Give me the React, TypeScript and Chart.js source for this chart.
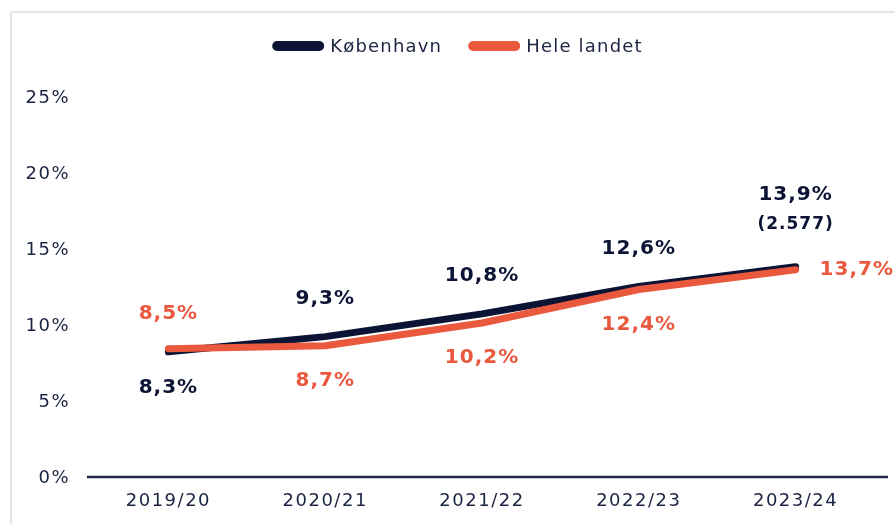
import React, { useEffect, useRef } from 'react';
import { Chart, registerables } from 'chart.js';

Chart.register(...registerables);

const categories = ['2019/20', '2020/21', '2021/22', '2022/23', '2023/24'];
const seriesNames = ['København', 'Hele landet'];
const kbhValues = [8.3, 9.3, 10.8, 12.6, 13.9];
const heleValues = [8.5, 8.7, 10.2, 12.4, 13.7];
const kbhLabelPos = ['below', 'above', 'above', 'above', 'above'];
const heleLabelPos = ['above', 'below', 'below', 'below', 'right'];
const kbhNotes = ['', '', '', '', '(2.577)'];
const heleNotes = ['', '', '', '', ''];
const yMin = 0;
const yMax = 25;
const yStep = 5;

const NAVY = '#0b1434';
const ORANGE = '#ea583e';
const TEXT = '#1b2442';
const FONT = '"DejaVu Sans", sans-serif';

const fmt = (v: number) => v.toFixed(1).replace('.', ',') + '%';

const spacingPlugin = {
  id: 'spacing',
  beforeLayout(chart: any) {
    chart.ctx.letterSpacing = '1.5px';
  },
  beforeDraw(chart: any) {
    chart.ctx.letterSpacing = '1.5px';
  },
};

const axisLinePlugin = {
  id: 'axisLine',
  beforeDatasetsDraw(chart: any) {
    const { ctx, chartArea } = chart;
    ctx.save();
    ctx.strokeStyle = '#1f2847';
    ctx.lineWidth = 2.5;
    ctx.beginPath();
    ctx.moveTo(chartArea.left - 3, chartArea.bottom - 1);
    ctx.lineTo(chartArea.right + 14, chartArea.bottom - 1);
    ctx.stroke();
    ctx.restore();
  },
};

const labelsPlugin = {
  id: 'valueLabels',
  afterDatasetsDraw(chart: any) {
    const { ctx } = chart;
    const positions = [kbhLabelPos, heleLabelPos];
    const notes = [kbhNotes, heleNotes];
    ctx.save();
    ctx.letterSpacing = '1px';
    chart.data.datasets.forEach((ds: any, di: number) => {
      const meta = chart.getDatasetMeta(di);
      meta.data.forEach((pt: any, i: number) => {
        const v = ds.data[i] as number;
        const pos = positions[di][i];
        const note = notes[di][i];
        ctx.fillStyle = ds.borderColor;
        ctx.font = `bold 20px ${FONT}`;
        ctx.textBaseline = 'middle';
        if (pos === 'right') {
          ctx.textAlign = 'left';
          ctx.fillText(fmt(v), pt.x + 24, pt.y);
          return;
        }
        ctx.textAlign = 'center';
        if (pos === 'above') {
          if (note) {
            ctx.fillText(fmt(v), pt.x, pt.y - 72);
            ctx.font = `bold 17px ${FONT}`;
            ctx.fillText(note, pt.x, pt.y - 42);
          } else {
            ctx.fillText(fmt(v), pt.x, pt.y - (di === 0 ? 38 : 35));
          }
        } else {
          ctx.fillText(fmt(v), pt.x, pt.y + (di === 0 ? 36 : 35));
        }
      });
    });
    ctx.restore();
  },
};

const legendPlugin = {
  id: 'customLegend',
  afterDraw(chart: any) {
    const { ctx } = chart;
    ctx.save();
    ctx.letterSpacing = '1.2px';
    ctx.font = `18px ${FONT}`;
    const sw = 52;
    const sh = 10;
    const gap = 6;
    const itemGap = 26;
    const items = chart.data.datasets.map((ds: any) => ({
      text: ds.label as string,
      color: ds.borderColor as string,
      w: sw + gap + ctx.measureText(ds.label).width,
    }));
    const total = items.reduce((s: number, it: any) => s + it.w, 0) + itemGap * (items.length - 1);
    let x = chart.width / 2 + 10 - total / 2;
    const y = 46;
    items.forEach((it: any) => {
      ctx.fillStyle = it.color;
      ctx.beginPath();
      ctx.roundRect(x, y - sh / 2, sw, sh, sh / 2);
      ctx.fill();
      ctx.fillStyle = TEXT;
      ctx.textAlign = 'left';
      ctx.textBaseline = 'middle';
      ctx.fillText(it.text, x + sw + gap, y + 1);
      x += it.w + itemGap;
    });
    ctx.restore();
  },
};

export default function App() {
  const ref = useRef<HTMLCanvasElement | null>(null);

  useEffect(() => {
    if (!ref.current) return;
    const chart = new Chart(ref.current, {
      type: 'line',
      data: {
        labels: categories,
        datasets: [
          {
            label: seriesNames[0],
            data: kbhValues,
            borderColor: NAVY,
            backgroundColor: NAVY,
            borderWidth: 7,
            pointRadius: 0,
            borderCapStyle: 'round',
            borderJoinStyle: 'round',
            tension: 0,
            order: 1,
          },
          {
            label: seriesNames[1],
            data: heleValues,
            borderColor: ORANGE,
            backgroundColor: ORANGE,
            borderWidth: 7,
            pointRadius: 0,
            borderCapStyle: 'round',
            borderJoinStyle: 'round',
            tension: 0,
            order: 0,
          },
        ],
      },
      options: {
        responsive: false,
        animation: false,
        layout: { padding: { top: 98, right: 21, left: 0, bottom: 0 } },
        plugins: {
          legend: { display: false },
          tooltip: { enabled: false },
        },
        scales: {
          x: {
            offset: true,
            grid: { display: false, drawTicks: false },
            border: { display: false },
            ticks: {
              color: TEXT,
              font: { family: FONT, size: 18 },
              padding: 13,
              maxRotation: 0,
            },
            afterFit: (s: any) => {
              s.height = 46;
            },
          },
          y: {
            min: yMin,
            max: yMax,
            grid: { display: false, drawTicks: false },
            border: { display: false },
            ticks: {
              stepSize: yStep,
              color: TEXT,
              font: { family: FONT, size: 18 },
              padding: 20,
              callback: (v: any) => v + '%',
            },
            afterFit: (s: any) => {
              s.width = 90;
            },
          },
        },
      },
      plugins: [spacingPlugin, axisLinePlugin, labelsPlugin, legendPlugin],
    } as any);
    return () => chart.destroy();
  }, []);

  return (
    <div
      style={{
        position: 'absolute',
        left: 0,
        top: 0,
        width: 895,
        height: 524,
        overflow: 'hidden',
        background: '#fff',
      }}
    >
      <div
        style={{
          position: 'absolute',
          left: 10,
          top: 11,
          width: 950,
          height: 600,
          border: '2px solid #e4e4e4',
          boxSizing: 'border-box',
        }}
      />
      <canvas
        ref={ref}
        width={895}
        height={524}
        style={{ position: 'absolute', left: 0, top: 0, width: 895, height: 524 }}
      />
    </div>
  );
}
